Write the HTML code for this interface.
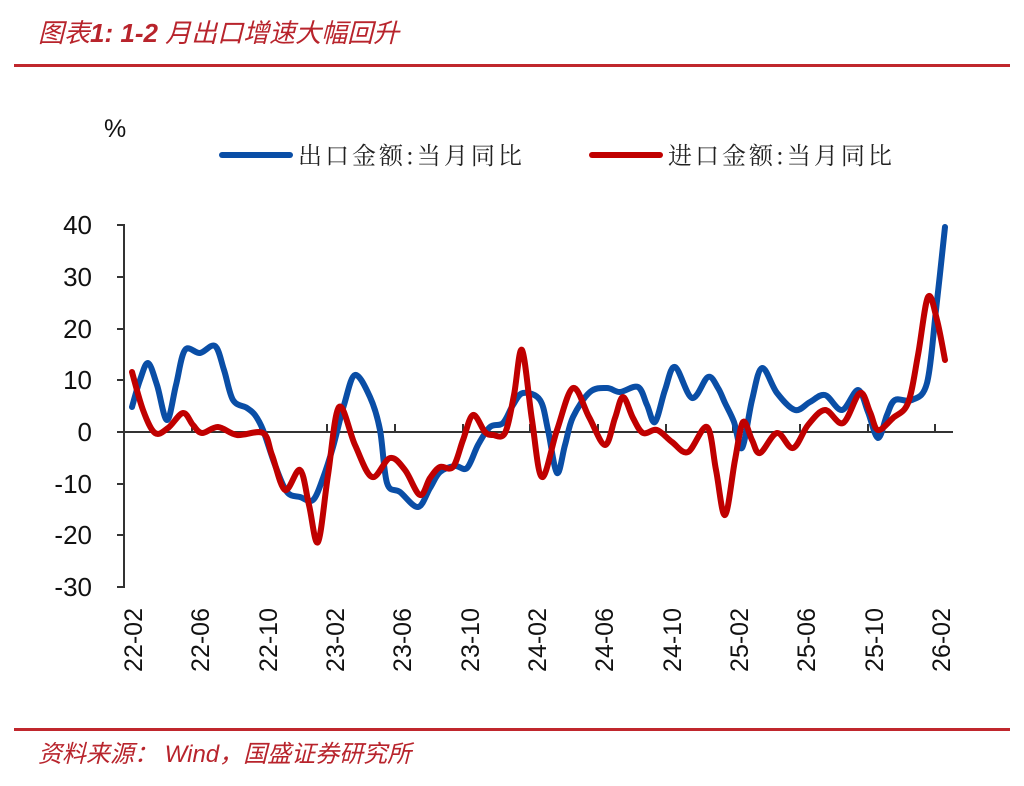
<!DOCTYPE html>
<html><head><meta charset="utf-8"><style>
html,body{margin:0;padding:0;background:#fff;}
svg{display:block;}
</style></head><body>
<svg id="c" width="1024" height="786" xmlns="http://www.w3.org/2000/svg">
<rect width="1024" height="786" fill="#fff"/>
<text x="38" y="42" font-family="Liberation Sans, Noto Sans CJK SC, sans-serif" font-size="26" font-style="italic" fill="#b8242c">图表<tspan font-weight="bold">1:  1-2</tspan> 月出口增速大幅回升</text>
<rect x="14" y="64" width="996" height="3" fill="#c0272d"/>
<text x="104" y="137" font-family="Liberation Sans, sans-serif" font-size="25" fill="#111">%</text>
<line x1="222" y1="155" x2="290" y2="155" stroke="#0a4ea6" stroke-width="6" stroke-linecap="round"/>
<text x="298" y="164" font-family="Noto Serif CJK SC, serif" font-size="24" fill="#222" letter-spacing="3">出口金额:当月同比</text>
<line x1="592" y1="155" x2="660" y2="155" stroke="#c00000" stroke-width="6" stroke-linecap="round"/>
<text x="668" y="164" font-family="Noto Serif CJK SC, serif" font-size="24" fill="#222" letter-spacing="3">进口金额:当月同比</text>
<g stroke="#333" stroke-width="2" fill="none">
<line x1="124" y1="224" x2="124" y2="588"/>
<line x1="117" y1="225" x2="124" y2="225"/>
<line x1="117" y1="277" x2="124" y2="277"/>
<line x1="117" y1="329" x2="124" y2="329"/>
<line x1="117" y1="380" x2="124" y2="380"/>
<line x1="117" y1="432" x2="124" y2="432"/>
<line x1="117" y1="484" x2="124" y2="484"/>
<line x1="117" y1="535" x2="124" y2="535"/>
<line x1="117" y1="587" x2="124" y2="587"/>
<line x1="124" y1="432" x2="953" y2="432"/>
<path d="M192 432v-8M260 432v-8M327 432v-8M395 432v-8M463 432v-8M530 432v-8M598 432v-8M666 432v-8M733 432v-8M800 432v-8M868 432v-8M935 432v-8"/>
</g>
<g font-family="Liberation Sans, sans-serif" font-size="26" fill="#111" text-anchor="end">
<text x="92" y="234">40</text><text x="92" y="286">30</text><text x="92" y="338">20</text>
<text x="92" y="389">10</text><text x="92" y="441">0</text><text x="92" y="493">-10</text>
<text x="92" y="544">-20</text><text x="92" y="596">-30</text>
</g>
<g font-family="Liberation Sans, sans-serif" font-size="25" fill="#111" text-anchor="end">
<text transform="translate(142,608) rotate(-90)">22-02</text>
<text transform="translate(209,608) rotate(-90)">22-06</text>
<text transform="translate(277,608) rotate(-90)">22-10</text>
<text transform="translate(344,608) rotate(-90)">23-02</text>
<text transform="translate(411,608) rotate(-90)">23-06</text>
<text transform="translate(479,608) rotate(-90)">23-10</text>
<text transform="translate(546,608) rotate(-90)">24-02</text>
<text transform="translate(613,608) rotate(-90)">24-06</text>
<text transform="translate(681,608) rotate(-90)">24-10</text>
<text transform="translate(748,608) rotate(-90)">25-02</text>
<text transform="translate(815,608) rotate(-90)">25-06</text>
<text transform="translate(883,608) rotate(-90)">25-10</text>
<text transform="translate(950,608) rotate(-90)">26-02</text>
</g>
<polyline class="s" fill="none" stroke="#0a4ea6" stroke-width="6" stroke-linejoin="round" stroke-linecap="round" points="132,407 140,380 148,363 157,385 167,420 176,385 185,350 200,353 215,346 224,370 233,400 247,408 255,415 263,430 275,465 287,492 300,497 313,500 323,478 333,447 344,405 355,375 370,397 380,430 387,483 400,492 418,507 430,488 440,472 455,466 467,468 478,445 490,427 503,423 513,405 523,393 540,400 548,430 557,473 565,445 573,417 590,392 607,388 620,392 638,387 647,405 655,422 665,390 675,367 692,398 708,377 718,388 725,403 734,422 742,448 752,400 762,368 777,393 795,410 810,402 825,395 842,410 858,390 868,412 878,438 887,415 895,400 912,400 927,383 936,310 945,227"/>
<polyline class="s" fill="none" stroke="#c00000" stroke-width="6" stroke-linejoin="round" stroke-linecap="round" points="132,372 143,410 155,433 168,428 183,413 193,425 202,433 218,427 237,435 263,433 272,455 285,490 300,470 309,505 318,542 328,475 339,407 355,445 372,477 390,458 405,470 420,495 430,478 440,467 453,467 463,440 473,415 485,432 493,435 505,433 514,395 522,350 532,420 542,477 557,430 573,388 589,417 605,445 615,418 623,397 633,418 643,433 657,430 672,442 688,452 707,427 716,470 725,515 735,460 743,422 752,440 760,453 777,433 793,448 808,425 825,410 843,423 860,393 870,412 878,430 893,418 908,403 918,355 928,297 937,320 945,360"/>
<rect x="14" y="728" width="996" height="3" fill="#c0272d"/>
<text x="38" y="762" font-family="Liberation Sans, Noto Sans CJK SC, sans-serif" font-size="24" font-style="italic" fill="#b8242c">资料来源： Wind，国盛证券研究所</text>
</svg>
<script>
document.querySelectorAll('polyline.s').forEach(function(pl){
  var p=pl.getAttribute('points').trim().split(/\s+/).map(function(s){return s.split(',').map(Number);});
  var d='M'+p[0][0]+' '+p[0][1];
  for(var i=0;i<p.length-1;i++){
    var p0=p[i-1]||p[i],p1=p[i],p2=p[i+1],p3=p[i+2]||p2;
    var c1x=p1[0]+(p2[0]-p0[0])/6,c1y=p1[1]+(p2[1]-p0[1])/6;
    var c2x=p2[0]-(p3[0]-p1[0])/6,c2y=p2[1]-(p3[1]-p1[1])/6;
    d+=' C'+c1x.toFixed(1)+' '+c1y.toFixed(1)+' '+c2x.toFixed(1)+' '+c2y.toFixed(1)+' '+p2[0]+' '+p2[1];
  }
  var path=document.createElementNS('http://www.w3.org/2000/svg','path');
  ['fill','stroke','stroke-width','stroke-linejoin','stroke-linecap'].forEach(function(a){path.setAttribute(a,pl.getAttribute(a));});
  path.setAttribute('d',d);
  pl.parentNode.replaceChild(path,pl);
});
</script>
</body></html>
